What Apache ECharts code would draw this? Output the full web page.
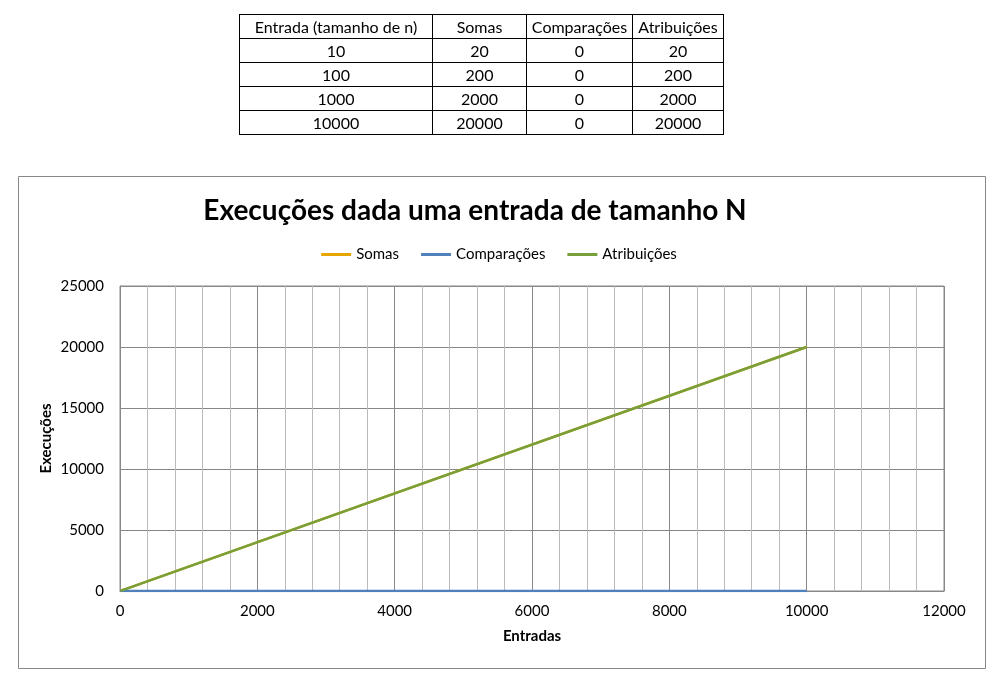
<!DOCTYPE html>
<html>
<head>
<meta charset="utf-8">
<script src="https://cdn.jsdelivr.net/npm/echarts@6/dist/echarts.min.js"></script>
<style>
  html, body { margin: 0; padding: 0; background: #fff; }
  #chart { position: absolute; left: 0; top: 0; width: 998px; height: 683px; }
  #tbl { position: absolute; left: 239px; top: 14px; border-collapse: collapse; font-family: Lato, "Open Sans", sans-serif; font-size: 16px; color: #000; }
  #tbl td { border: 1px solid #000; text-align: center; padding: 0; height: 23px; line-height: 23px; white-space: nowrap; }
</style>
</head>
<body>
<div id="chart"></div>
<table id="tbl"></table>
<script>
// ---- data ----
const headers = ["Entrada (tamanho de n)", "Somas", "Comparações", "Atribuições"];
const entradas = [10, 100, 1000, 10000];
const somas = [20, 200, 2000, 20000];
const comparacoes = [0, 0, 0, 0];
const atribuicoes = [20, 200, 2000, 20000];
const titleText = "Execuções dada uma entrada de tamanho N";
const xAxisName = "Entradas";
const yAxisName = "Execuções";

// ---- table ----
const colWidths = [192, 93, 105, 90];
const tbl = document.getElementById('tbl');
function addRow(cells) {
  const tr = document.createElement('tr');
  cells.forEach((c, i) => {
    const td = document.createElement('td');
    td.textContent = c;
    td.style.width = colWidths[i] + 'px';
    tr.appendChild(td);
  });
  tbl.appendChild(tr);
}
addRow(headers);
entradas.forEach((e, i) => addRow([e, somas[i], comparacoes[i], atribuicoes[i]]));

// ---- chart ----
const pairs = (ys) => entradas.map((x, i) => [x, ys[i]]);
const font = 'Lato, "Open Sans", sans-serif';
const plain = (v) => String(v);
const chart = echarts.init(document.getElementById('chart'), null, { renderer: 'canvas' });
chart.setOption({
  animation: false,
  textStyle: { fontFamily: font },
  graphic: [{
    type: 'rect', shape: { x: 18.5, y: 176.5, width: 967, height: 492 },
    style: { fill: 'none', stroke: '#888', lineWidth: 1 }, z: -1
  }],
  title: {
    text: titleText, left: 470, top: 192, textAlign: 'center',
    textStyle: { fontFamily: font, fontSize: 28, fontWeight: 'bold', color: '#000' }
  },
  legend: {
    top: 242, left: 'center', itemWidth: 30, itemHeight: 3, itemGap: 22,
    icon: 'rect',
    textStyle: { fontFamily: font, fontSize: 15, color: '#000' },
    data: ['Somas', 'Comparações', 'Atribuições']
  },
  grid: { left: 120, top: 286, right: 54, bottom: 92, show: true, borderColor: '#888', borderWidth: 1 },
  xAxis: {
    type: 'value', min: 0, max: 12000, interval: 2000,
    name: xAxisName, nameLocation: 'middle', nameGap: 38, nameMoveOverlap: false,
    nameTextStyle: { fontFamily: font, fontSize: 15, fontWeight: 'bold', color: '#000' },
    axisLine: { show: true, lineStyle: { color: '#888' } },
    axisTick: { show: false },
    axisLabel: { fontFamily: font, fontSize: 15, color: '#000', margin: 13, formatter: plain },
    splitLine: { show: true, lineStyle: { color: '#888', width: 1 } },
    minorTick: { show: false, splitNumber: 5 },
    minorSplitLine: { show: true, lineStyle: { color: '#bbb', width: 1 } }
  },
  yAxis: {
    type: 'value', min: 0, max: 25000, interval: 5000,
    name: yAxisName, nameLocation: 'middle', nameGap: 66, nameRotate: 90, nameMoveOverlap: false,
    nameTextStyle: { fontFamily: font, fontSize: 15, fontWeight: 'bold', color: '#000' },
    axisLine: { show: true, lineStyle: { color: '#888' } },
    axisTick: { show: false },
    axisLabel: { fontFamily: font, fontSize: 15, color: '#000', margin: 16, formatter: plain },
    splitLine: { show: true, lineStyle: { color: '#888', width: 1 } }
  },
  series: [
    { name: 'Somas', type: 'line', data: pairs(somas), symbol: 'none', lineStyle: { color: '#E6A500', width: 2.5 }, itemStyle: { color: '#E6A500' } },
    { name: 'Comparações', type: 'line', data: pairs(comparacoes), symbol: 'none', lineStyle: { color: '#4F81BD', width: 2.5 }, itemStyle: { color: '#4F81BD' } },
    { name: 'Atribuições', type: 'line', data: pairs(atribuicoes), symbol: 'none', lineStyle: { color: '#77A03A', width: 2.5 }, itemStyle: { color: '#77A03A' } }
  ]
});
</script>
</body>
</html>
